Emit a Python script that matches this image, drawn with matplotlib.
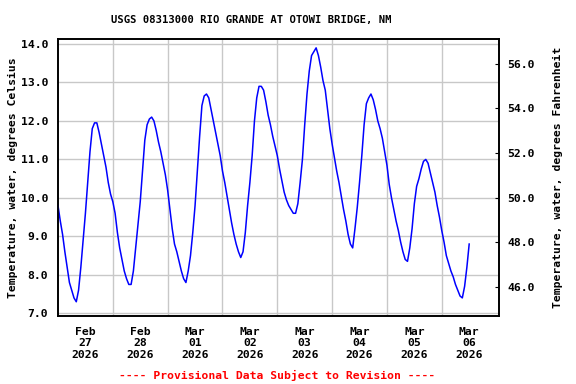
import numpy as np
import pandas as pd
import matplotlib
matplotlib.use("Agg")
import matplotlib.pyplot as plt
import matplotlib.dates as mdates

# hourly water temperature (deg C), starting Feb 27 2026 00:00
temp_c = [9.8, 9.4, 9.05, 8.6, 8.2, 7.8, 7.6, 7.4, 7.3, 7.6, 8.2, 8.9, 9.6, 10.4, 11.2, 11.8,
          11.95, 11.95, 11.7, 11.4, 11.1, 10.8, 10.4, 10.1, 9.9, 9.6, 9.1, 8.7, 8.4, 8.1, 7.9,
          7.75, 7.75, 8.1, 8.7, 9.3, 9.9, 10.7, 11.5, 11.9, 12.05, 12.1, 12.0, 11.75, 11.45,
          11.2, 10.9, 10.6, 10.2, 9.7, 9.2, 8.8, 8.6, 8.35, 8.1, 7.9, 7.8, 8.1, 8.5, 9.1, 9.8,
          10.7, 11.6, 12.4, 12.65, 12.7, 12.6, 12.3, 12.0, 11.7, 11.4, 11.1, 10.7, 10.4, 10.05,
          9.7, 9.35, 9.05, 8.8, 8.6, 8.45, 8.6, 9.1, 9.8, 10.4, 11.1, 12.0, 12.6, 12.9, 12.9,
          12.8, 12.5, 12.15, 11.9, 11.6, 11.35, 11.1, 10.75, 10.45, 10.15, 9.95, 9.8, 9.7, 9.6,
          9.6, 9.85, 10.4, 11.0, 11.9, 12.7, 13.3, 13.7, 13.8, 13.9, 13.7, 13.4, 13.05, 12.8,
          12.3, 11.8, 11.4, 11.05, 10.7, 10.4, 10.05, 9.7, 9.4, 9.05, 8.8, 8.7, 9.2, 9.75, 10.4,
          11.1, 11.9, 12.45, 12.6, 12.7, 12.55, 12.3, 12.0, 11.8, 11.55, 11.2, 10.85, 10.35,
          10.0, 9.7, 9.4, 9.15, 8.85, 8.6, 8.4, 8.35, 8.7, 9.2, 9.85, 10.3, 10.5, 10.75, 10.95,
          11.0, 10.9, 10.65, 10.4, 10.15, 9.8, 9.5, 9.15, 8.85, 8.5, 8.3, 8.1, 7.95, 7.75, 7.6,
          7.45, 7.4, 7.7, 8.2, 8.8]
times = pd.date_range("2026-02-27 00:00", periods=len(temp_c), freq="h")

left_ticks = [7.0, 8.0, 9.0, 10.0, 11.0, 12.0, 13.0, 14.0]
right_ticks = [46.0, 48.0, 50.0, 52.0, 54.0, 56.0]
day_labels = ["Feb\n27\n2026", "Feb\n28\n2026", "Mar\n01\n2026", "Mar\n02\n2026",
              "Mar\n03\n2026", "Mar\n04\n2026", "Mar\n05\n2026", "Mar\n06\n2026"]

plt.rcParams['font.family'] = 'DejaVu Sans Mono'
plt.rcParams['font.weight'] = 'bold'
fs = 8.2

fig = plt.figure(figsize=(5.76, 3.84), dpi=100)
ax = fig.add_axes([0.1007, 0.1771, 0.7656, 0.7213])

ax.plot(times, temp_c, color="#0000ff", lw=1.1, zorder=3)

start = pd.Timestamp("2026-02-27 00:00")
ax.set_xlim(start, pd.Timestamp("2026-03-07 01:03"))
ax.set_ylim(6.93, 14.13)

noons = [start + pd.Timedelta(days=i, hours=12) for i in range(8)]
midnights = [start + pd.Timedelta(days=i) for i in range(1, 8)]
ax.set_xticks(noons)
ax.set_xticklabels(day_labels, fontsize=fs, fontweight="bold", linespacing=1.15)
ax.set_xticks(midnights, minor=True)
ax.tick_params(axis="x", which="both", length=0, pad=8)
ax.grid(True, axis="x", which="minor", color="#c8c8c8", lw=1)
ax.grid(True, axis="y", which="major", color="#c8c8c8", lw=1)

ax.set_yticks(left_ticks)
ax.set_yticklabels(["%.1f" % v for v in left_ticks], fontsize=fs, fontweight="bold")
ax.tick_params(axis="y", length=0, pad=7)
ax.set_ylabel("Temperature, water, degrees Celsius", fontsize=fs, fontweight="bold", labelpad=2)

for s in ax.spines.values():
    s.set_linewidth(1.2)

ax2 = ax.twinx()
ax2.set_ylim(44.68, 57.12)
ax2.set_yticks(right_ticks)
ax2.set_yticklabels(["%.1f" % v for v in right_ticks], fontsize=fs, fontweight="bold")
ax2.tick_params(axis="y", direction="in", length=3, pad=6)
ax2.set_ylabel("Temperature, water, degrees Fahrenheit", fontsize=fs, fontweight="bold", labelpad=13)
for s in ax2.spines.values():
    s.set_linewidth(1.2)

fig.text(251 / 576, 1 - 20 / 384, "USGS 08313000 RIO GRANDE AT OTOWI BRIDGE, NM",
         ha="center", va="center", fontsize=7.6, fontweight="bold")
fig.text(277 / 576, 1 - 375 / 384, "---- Provisional Data Subject to Revision ----",
         ha="center", va="center", fontsize=fs, fontweight="bold", color="#ff0000")

fig.savefig("out.png", dpi=100)
